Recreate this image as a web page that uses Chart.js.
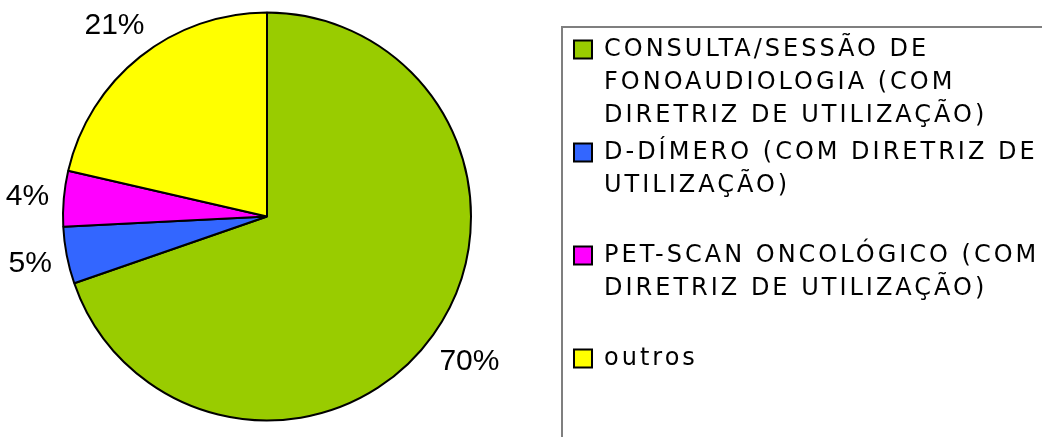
<!DOCTYPE html>
<html>
<head>
<meta charset="utf-8">
<script src="https://cdn.jsdelivr.net/npm/chart.js@4/dist/chart.umd.min.js"></script>
<style>
  html, body { margin: 0; padding: 0; background: #fff; }
  #wrap { width: 1042px; height: 437px; }
</style>
</head>
<body>
<div id="wrap"><canvas id="pie" width="1042" height="437"></canvas></div>
<script>
const categories = [
  ['CONSULTA/SESSÃO DE', 'FONOAUDIOLOGIA (COM', 'DIRETRIZ DE UTILIZAÇÃO)'],
  ['D-DÍMERO (COM DIRETRIZ DE', 'UTILIZAÇÃO)'],
  ['PET-SCAN ONCOLÓGICO (COM', 'DIRETRIZ DE UTILIZAÇÃO)'],
  'outros'
];
const shares = [69.7, 4.5, 4.4, 21.4];
const sliceColors = ['#99CC00', '#3366FF', '#FF00FF', '#FFFF00'];

// legend text in the original is set loose
const spacing = {
  id: 'spacing',
  beforeUpdate(chart) { chart.ctx.letterSpacing = '3px'; },
  beforeDraw(chart) { chart.ctx.letterSpacing = '3px'; }
};

// leave a gap between the pie and the legend frame
const pieArea = {
  id: 'pieArea',
  afterLayout(chart) {
    const area = chart.chartArea;
    area.right = chart.legend.left - 36;
    area.width = area.right - area.left;
  }
};

// grey frame round the legend, open to the right and bottom
const legendFrame = {
  id: 'legendFrame',
  afterDraw(chart) {
    const lg = chart.legend, ctx = chart.ctx;
    ctx.save();
    ctx.strokeStyle = '#7f7f7f';
    ctx.lineWidth = 2;
    ctx.strokeRect(lg.left - 8, lg.top + 27, 600, 600);
    ctx.restore();
  }
};

// percentage labels outside each slice
const outsideLabels = {
  id: 'outsideLabels',
  afterDatasetsDraw(chart) {
    const ctx = chart.ctx;
    const meta = chart.getDatasetMeta(0);
    ctx.save();
    ctx.letterSpacing = '0px';
    ctx.font = '30px "Liberation Sans", Arial, sans-serif';
    ctx.fillStyle = '#000';
    ctx.textAlign = 'center';
    ctx.textBaseline = 'middle';
    meta.data.forEach((arc, i) => {
      const p = arc.getProps(['x', 'y', 'startAngle', 'endAngle', 'outerRadius'], true);
      const mid = (p.startAngle + p.endAngle) / 2;
      const dx = Math.cos(mid), dy = Math.sin(mid);
      const text = Math.round(shares[i]) + '%';
      const w = ctx.measureText(text).width, h = 21;
      const d = p.outerRadius + 14 + (w / 2 * Math.abs(dx) + h / 2 * Math.abs(dy));
      ctx.fillText(text, p.x + d * dx, p.y + d * dy + 1);
    });
    ctx.restore();
  }
};

const baseLabels = Chart.controllers.doughnut.overrides.plugins.legend.labels.generateLabels;

new Chart(document.getElementById('pie'), {
  type: 'pie',
  data: {
    labels: categories,
    datasets: [{
      data: shares,
      backgroundColor: sliceColors,
      borderColor: '#000',
      borderWidth: 2,
      hoverOffset: 0,
      radius: 204
    }]
  },
  options: {
    responsive: false,
    animation: false,
    events: [],
    layout: { padding: { left: 0, right: 0, top: 0, bottom: 4 } },
    plugins: {
      tooltip: { enabled: false },
      legend: {
        position: 'right',
        align: 'start',
        maxWidth: 472,
        title: { display: true, text: ' ', font: { size: 10, lineHeight: 1 }, padding: { top: 23.4, bottom: 0 } },
        labels: {
          color: '#000',
          boxWidth: 18,
          boxHeight: 18,
          padding: 4,
          font: { family: '"DejaVu Sans", Verdana, sans-serif', size: 24, lineHeight: 1.375 },
          generateLabels(chart) {
            return baseLabels(chart).map(item => {
              if (Array.isArray(item.text)) {
                const lines = item.text.slice();
                while (lines.length < 3) lines.push('');
                item.text = lines;
              }
              return item;
            });
          }
        }
      }
    }
  },
  plugins: [spacing, pieArea, outsideLabels, legendFrame]
});
</script>
</body>
</html>
